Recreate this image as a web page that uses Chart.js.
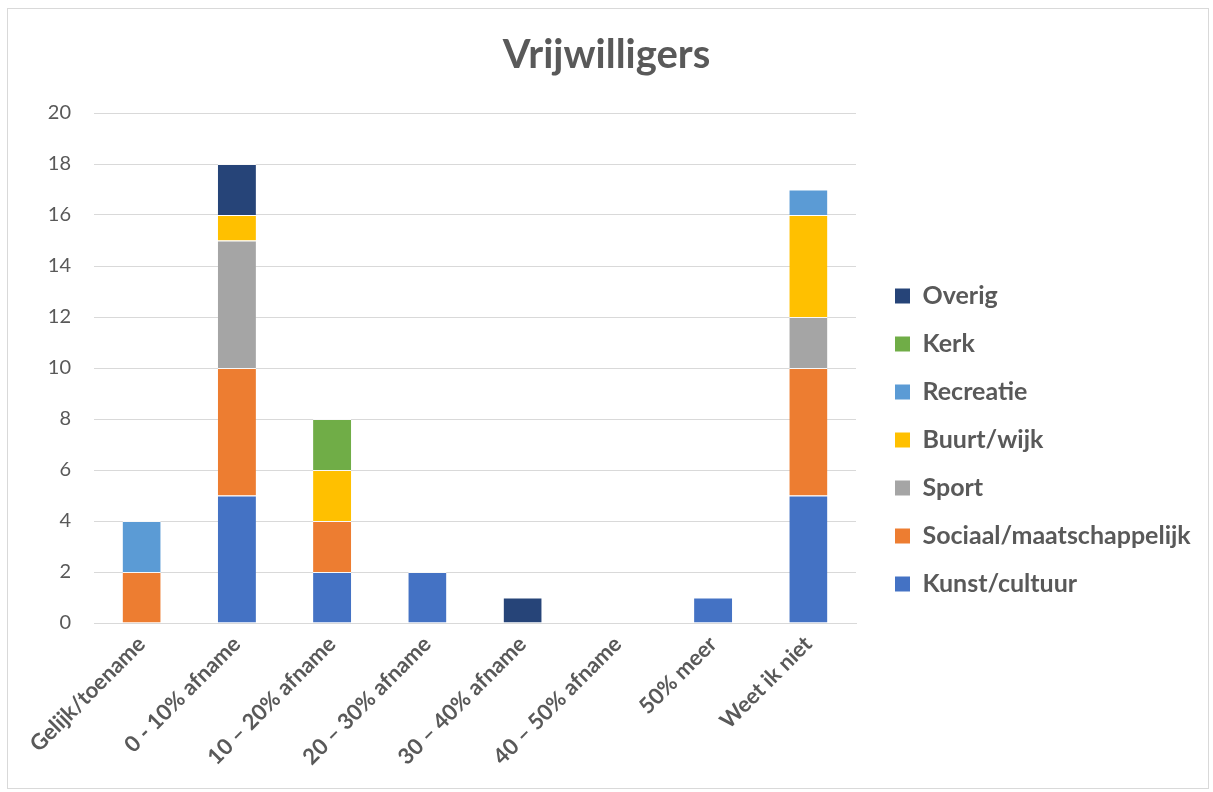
<!DOCTYPE html>
<html>
<head>
<meta charset="utf-8">
<script src="https://cdn.jsdelivr.net/npm/chart.js@4.4.1/dist/chart.umd.min.js"></script>
<style>
html,body{margin:0;padding:0;background:#fff;}
#frame{position:absolute;left:7px;top:8px;width:1202px;height:781px;border:1px solid #d9d9d9;box-sizing:border-box;}
#wrap{position:absolute;left:0;top:0;width:1213px;height:792px;}
</style>
</head>
<body>
<div id="frame"></div>
<div id="wrap"><canvas id="c" width="1213" height="792"></canvas></div>
<script>
const categories = ["Gelijk/toename","0 - 10% afname","10 \u2013 20% afname","20 \u2013 30% afname","30 \u2013 40% afname","40 \u2013 50% afname","50% meer","Weet ik niet"];
const kunstCultuur = [0,5,2,2,0,0,1,5];
const sociaalMaatschappelijk = [2,5,2,0,0,0,0,5];
const sport = [0,5,0,0,0,0,0,2];
const buurtWijk = [0,1,2,0,0,0,0,4];
const recreatie = [2,0,0,0,0,0,0,1];
const kerk = [0,0,2,0,0,0,0,0];
const overig = [0,2,0,0,1,0,0,0];
const yTicks = [0,2,4,6,8,10,12,14,16,18,20];

const FONT = "Lato, 'Open Sans', sans-serif";
const GREY = "#595959";
const LEGEND_WIDTH = 333;

function ds(label, data, color){
  return {label, data, backgroundColor: color, borderColor: 'rgba(255,255,255,0.8)', borderWidth: {top: 1}, borderSkipped: 'start',
          barPercentage: 0.4, categoryPercentage: 1.0, yAxisID: 'y'};
}

const legendWidthPlugin = {
  id: 'legendWidth',
  beforeLayout(chart) {
    const lg = chart.legend;
    if (lg && !lg._wPatched) {
      const orig = lg.fit;
      lg.fit = function () { orig.call(this); this.width = LEGEND_WIDTH; };
      lg._wPatched = true;
    }
  }
};

new Chart(document.getElementById('c'), {
  type: 'bar',
  data: {
    labels: categories,
    datasets: [
      ds("Kunst/cultuur", kunstCultuur, "#4472C4"),
      ds("Sociaal/maatschappelijk", sociaalMaatschappelijk, "#ED7D31"),
      ds("Sport", sport, "#A5A5A5"),
      ds("Buurt/wijk", buurtWijk, "#FFC000"),
      ds("Recreatie", recreatie, "#5B9BD5"),
      ds("Kerk", kerk, "#70AD47"),
      ds("Overig", overig, "#264478")
    ]
  },
  plugins: [legendWidthPlugin],
  options: {
    responsive: false,
    animation: false,
    layout: { padding: { left: 8, right: 8, bottom: 22, top: 0 } },
    plugins: {
      title: {
        display: true,
        text: "Vrijwilligers",
        color: GREY,
        font: { family: FONT, size: 40, weight: 'bold' },
        padding: { top: 31, bottom: 34 }
      },
      legend: {
        position: 'right',
        reverse: true,
        title: {
          display: true,
          text: ' ',
          color: 'rgba(0,0,0,0)',
          font: { family: FONT, size: 10 },
          padding: { top: 49, bottom: 49 }
        },
        labels: {
          color: GREY,
          font: { family: FONT, size: 25, weight: 'bold' },
          boxWidth: 15,
          boxHeight: 15,
          padding: 23,
          generateLabels: (chart) => Chart.defaults.plugins.legend.labels.generateLabels(chart).map(l => Object.assign(l, {lineWidth: 0, strokeStyle: 'rgba(0,0,0,0)'}))
        }
      },
      tooltip: { enabled: false }
    },
    scales: {
      x: {
        stacked: true,
        grid: { display: false, drawTicks: false },
        border: { display: true, color: "#d9d9d9", width: 1 },
        ticks: {
          color: GREY,
          font: { family: FONT, size: 22, weight: 'bold' },
          minRotation: 45, maxRotation: 45, padding: 8
        },
        afterFit: (s) => { s.height = 147; }
      },
      y: {
        stacked: true,
        min: 0, max: 20,
        afterBuildTicks: (s) => { s.ticks = yTicks.map(v => ({value: v})); },
        grid: { color: "#d9d9d9", lineWidth: 1, drawTicks: false },
        border: { display: false },
        ticks: {
          color: GREY,
          font: { family: FONT, size: 20 },
          padding: 23
        },
        afterFit: (s) => { s.width = 86; }
      },
      y2: {
        position: 'right',
        min: 0, max: 20,
        grid: { display: false, drawTicks: false },
        border: { display: false },
        ticks: { display: false },
        afterFit: (s) => { s.width = 16; }
      }
    }
  }
});
</script>
</body>
</html>
